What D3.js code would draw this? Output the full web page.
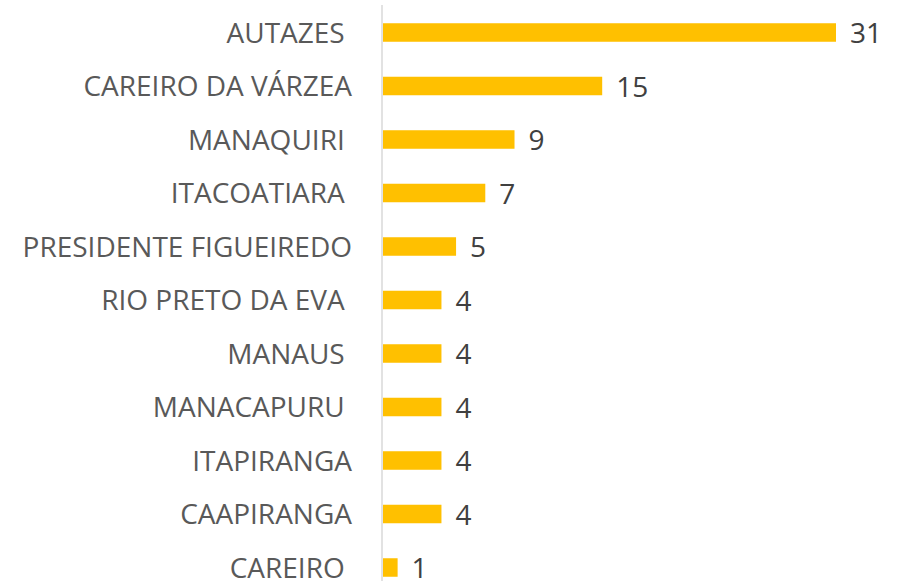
<!DOCTYPE html>
<html><head><meta charset="utf-8">
<script src="https://cdn.jsdelivr.net/npm/d3@7"></script>
<style>
html,body{margin:0;padding:0;background:#fff;}
text{white-space:pre;}
</style>
</head><body>
<svg id="chart" width="910" height="581" xml:space="preserve"></svg>
<script>
const categories = ["AUTAZES ", "CAREIRO DA VÁRZEA", "MANAQUIRI ", "ITACOATIARA ", "PRESIDENTE FIGUEIREDO", "RIO PRETO DA EVA ", "MANAUS ", "MANACAPURU ", "ITAPIRANGA", "CAAPIRANGA", "CAREIRO "];
const values = [31, 15, 9, 7, 5, 4, 4, 4, 4, 4, 1];

const svg = d3.select("#chart");
const x = d3.scaleLinear().domain([0, 31]).range([383, 836]);
const y = d3.scaleBand().domain(categories).range([5.75, 594.25]).paddingInner(0.654).paddingOuter(0.327);
const font = "'Open Sans', sans-serif";
const fs = 28;

svg.selectAll("rect.bar").data(values).join("rect")
  .attr("class", "bar")
  .attr("x", x(0))
  .attr("y", (d, i) => y(categories[i]))
  .attr("width", d => x(d) - x(0))
  .attr("height", y.bandwidth())
  .attr("fill", "#FFC000");

svg.append("line")
  .attr("x1", 382).attr("x2", 382).attr("y1", 5).attr("y2", 581)
  .attr("stroke", "#d9d9d9").attr("stroke-width", 1.5);

svg.selectAll("text.cat").data(categories).join("text")
  .attr("class", "cat")
  .attr("x", 352)
  .attr("y", d => y(d) + y.bandwidth() / 2 + 10)
  .attr("text-anchor", "end")
  .attr("font-family", font)
  .attr("font-size", fs)
  .attr("fill", "#595959")
  .text(d => d);

svg.selectAll("text.val").data(values).join("text")
  .attr("class", "val")
  .attr("x", d => x(d) + 14)
  .attr("y", (d, i) => y(categories[i]) + y.bandwidth() / 2 + 10.5)
  .attr("font-family", font)
  .attr("font-size", fs)
  .attr("fill", "#404040")
  .text(d => d);
</script>
</body></html>
